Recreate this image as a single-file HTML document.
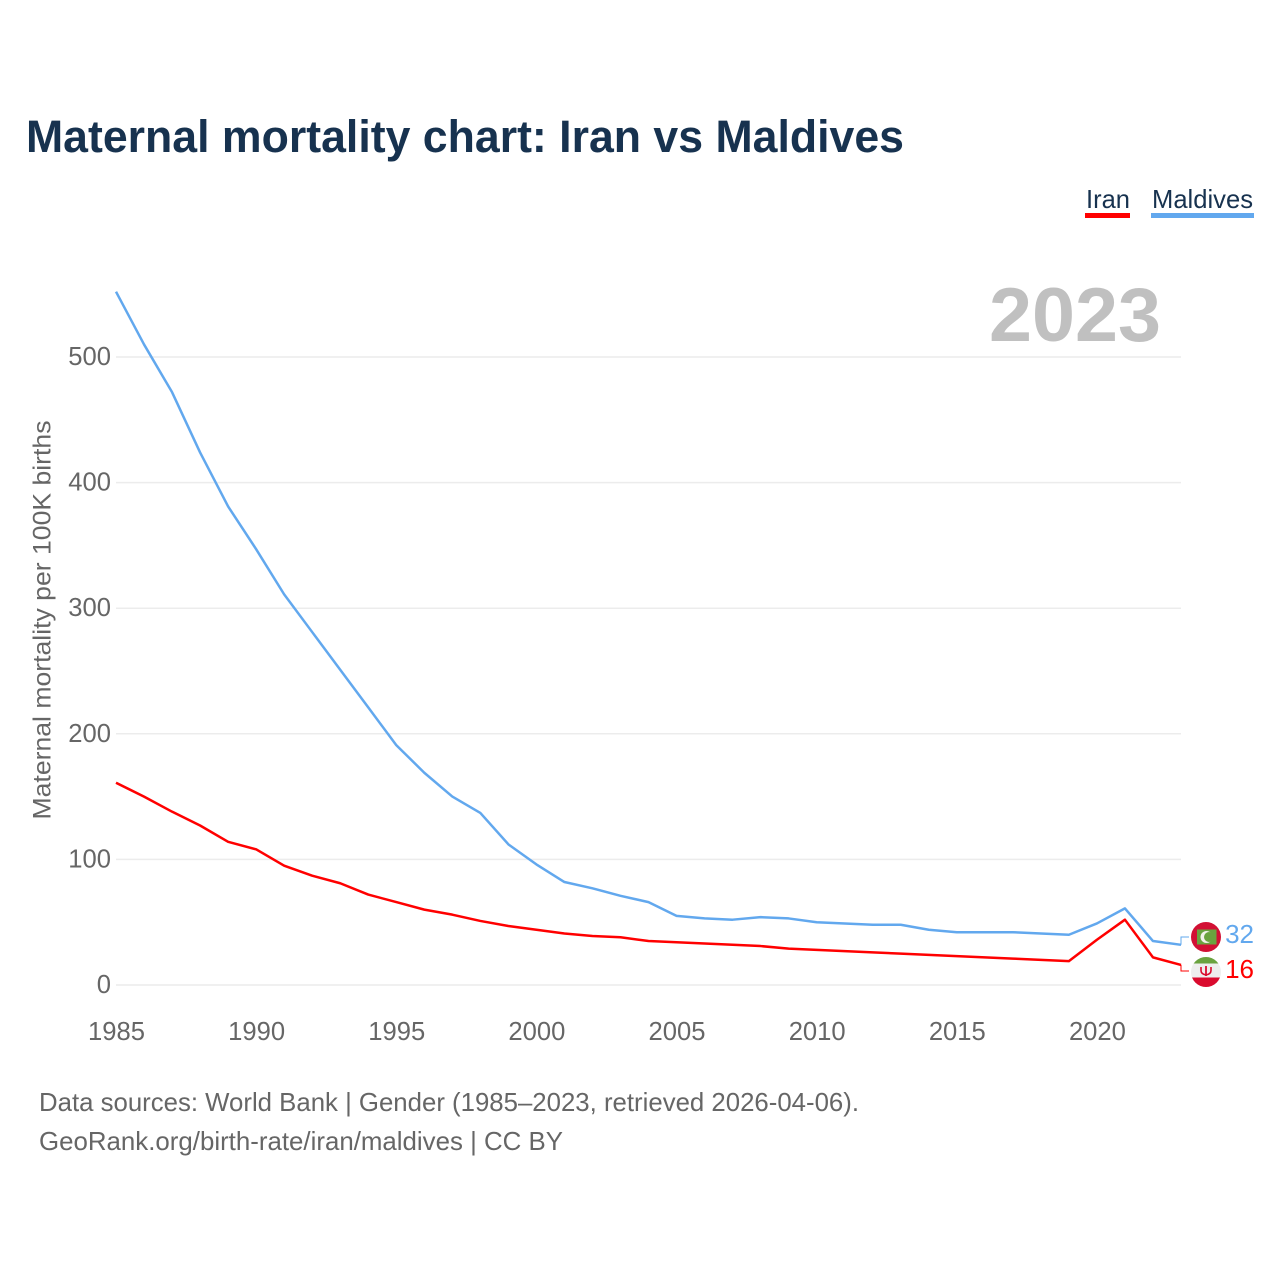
<!DOCTYPE html>
<html lang="en">
<head>
<meta charset="utf-8">
<title>Maternal mortality chart: Iran vs Maldives</title>
<style>
html,body{margin:0;padding:0;background:#fff}
svg{display:block;font-family:"Liberation Sans",sans-serif}
</style>
</head>
<body>
<svg id="chart" xmlns="http://www.w3.org/2000/svg" width="1280" height="1280" viewBox="0 0 1280 1280">
  <rect x="0" y="0" width="1280" height="1280" fill="#fff"/>
  <text x="26" y="152" font-size="45" font-weight="700" fill="#17324f" textLength="878" lengthAdjust="spacingAndGlyphs">Maternal mortality chart: Iran vs Maldives</text>

  <g>
    <g>
      <text x="1086" y="208" font-size="26" fill="#17324f" textLength="44" lengthAdjust="spacingAndGlyphs">Iran</text>
      <rect x="1085" y="213" width="45" height="5" fill="#ff0000"/>
    </g>
    <g>
      <text x="1152" y="208" font-size="26" fill="#17324f" textLength="101" lengthAdjust="spacingAndGlyphs">Maldives</text>
      <rect x="1151" y="213" width="103" height="5" fill="#62a8ee"/>
    </g>
  </g>

  <g id="grid"></g>
  <g id="y-ticks"></g>
  <g id="x-ticks"></g>

  <text x="989" y="341" font-size="76" font-weight="700" fill="#c0c0c0" textLength="172" lengthAdjust="spacingAndGlyphs">2023</text>

  <text transform="translate(50.5,620) rotate(-90)" text-anchor="middle" font-size="25" fill="#666" textLength="399" lengthAdjust="spacingAndGlyphs">Maternal mortality per 100K births</text>

  <g id="series"></g>
  <g id="leaders"></g>

  <defs>
    <clipPath id="clip-mv"><circle cx="1206" cy="937" r="15"/></clipPath>
    <clipPath id="clip-ir"><circle cx="1206" cy="972" r="15"/></clipPath>
  </defs>

  <g clip-path="url(#clip-mv)">
    <rect x="1190" y="920" width="32" height="34" fill="#d21034"/>
    <rect x="1197" y="929.5" width="19.5" height="15" fill="#6aa33f"/>
    <circle cx="1206.5" cy="937" r="6" fill="#f2f2ea"/>
    <circle cx="1209" cy="937" r="5" fill="#6aa33f"/>
  </g>
  <g clip-path="url(#clip-ir)">
    <rect x="1190" y="955" width="32" height="34" fill="#eeeeee"/>
    <rect x="1190" y="955" width="32" height="8.5" fill="#6aa33f"/>
    <rect x="1190" y="977.5" width="32" height="12" fill="#da0b2e"/>
    <path d="M1201 967v3.5q0 3.5 5 4.5q5-1 5-4.5v-3.5" fill="none" stroke="#da0b2e" stroke-width="1.6"/>
    <path d="M1206 966v10" stroke="#da0b2e" stroke-width="1.8"/>
  </g>

  <g id="end-labels"></g>

  <text x="39" y="1111" font-size="26" fill="#666" textLength="820" lengthAdjust="spacingAndGlyphs">Data sources: World Bank | Gender (1985–2023, retrieved 2026-04-06).</text>
  <text x="39" y="1150" font-size="26" fill="#666" textLength="524" lengthAdjust="spacingAndGlyphs">GeoRank.org/birth-rate/iran/maldives | CC BY</text>
</svg>

<script>
var years = [1985,1986,1987,1988,1989,1990,1991,1992,1993,1994,1995,1996,1997,1998,1999,2000,2001,2002,2003,2004,2005,2006,2007,2008,2009,2010,2011,2012,2013,2014,2015,2016,2017,2018,2019,2020,2021,2022,2023];
var iranValues = [161,150,138,127,114,108,95,87,81,72,66,60,56,51,47,44,41,39,38,35,34,33,32,31,29,28,27,26,25,24,23,22,21,20,19,36,52,22,16];
var maldivesValues = [552,510,472,424,381,347,311,281,251,221,191,169,150,137,112,96,82,77,71,66,55,53,52,54,53,50,49,48,48,44,42,42,42,41,40,49,61,35,32];
var yTickValues = [0,100,200,300,400,500];
var xTickValues = [1985,1990,1995,2000,2005,2010,2015,2020];

var SVG_NS = 'http://www.w3.org/2000/svg';
var COLOR_IRAN = '#ff0000';
var COLOR_MALDIVES = '#62a8ee';

function xScale(year) { return 116 + (year - 1985) * (1181 - 116) / 38; }
function yScale(value) { return 985 - value * (985 - 357) / 500; }
function make(tag, parentId, attrs, text) {
  var el = document.createElementNS(SVG_NS, tag);
  for (var k in attrs) { el.setAttribute(k, attrs[k]); }
  if (text !== undefined) { el.textContent = text; }
  document.getElementById(parentId).appendChild(el);
  return el;
}
function linePath(values) {
  return values.map(function (v, i) {
    return (i ? 'L' : 'M') + xScale(years[i]).toFixed(2) + ' ' + yScale(v).toFixed(2);
  }).join(' ');
}

yTickValues.forEach(function (v) {
  var grid = make('line', 'grid', { x1: 116, x2: 1181, y1: yScale(v), y2: yScale(v), stroke: '#ececec', 'stroke-width': 1.5 });
  
  
  var label = make('text', 'y-ticks', { x: 111, y: yScale(v) + 8, 'text-anchor': 'end', 'font-size': 25.6, fill: '#666' }, String(v));
  
  
});

xTickValues.forEach(function (year) {
  var label = make('text', 'x-ticks', { x: xScale(year) + 0.5, y: 1040, 'text-anchor': 'middle', 'font-size': 25.6, fill: '#666' }, String(year));
  
  
});

var iranLine = make('path', 'series', { d: linePath(iranValues), fill: 'none', stroke: COLOR_IRAN, 'stroke-width': 2.5, 'stroke-linejoin': 'round' });



var maldivesLine = make('path', 'series', { d: linePath(maldivesValues), fill: 'none', stroke: COLOR_MALDIVES, 'stroke-width': 2.5, 'stroke-linejoin': 'round' });



var lastIran = iranValues[iranValues.length - 1];
var lastMaldives = maldivesValues[maldivesValues.length - 1];

var iranLeader = make('path', 'leaders', { d: 'M1181 ' + yScale(lastIran) + ' V971 H1189', fill: 'none', stroke: COLOR_IRAN, 'stroke-width': 1 });



var maldivesLeader = make('path', 'leaders', { d: 'M1181 ' + yScale(lastMaldives) + ' V937 H1189', fill: 'none', stroke: COLOR_MALDIVES, 'stroke-width': 1 });



var maldivesEnd = make('text', 'end-labels', { x: 1254, y: 943, 'text-anchor': 'end', 'font-size': 26, fill: COLOR_MALDIVES }, String(lastMaldives));



var iranEnd = make('text', 'end-labels', { x: 1254, y: 978, 'text-anchor': 'end', 'font-size': 26, fill: COLOR_IRAN }, String(lastIran));


</script>
</body>
</html>
